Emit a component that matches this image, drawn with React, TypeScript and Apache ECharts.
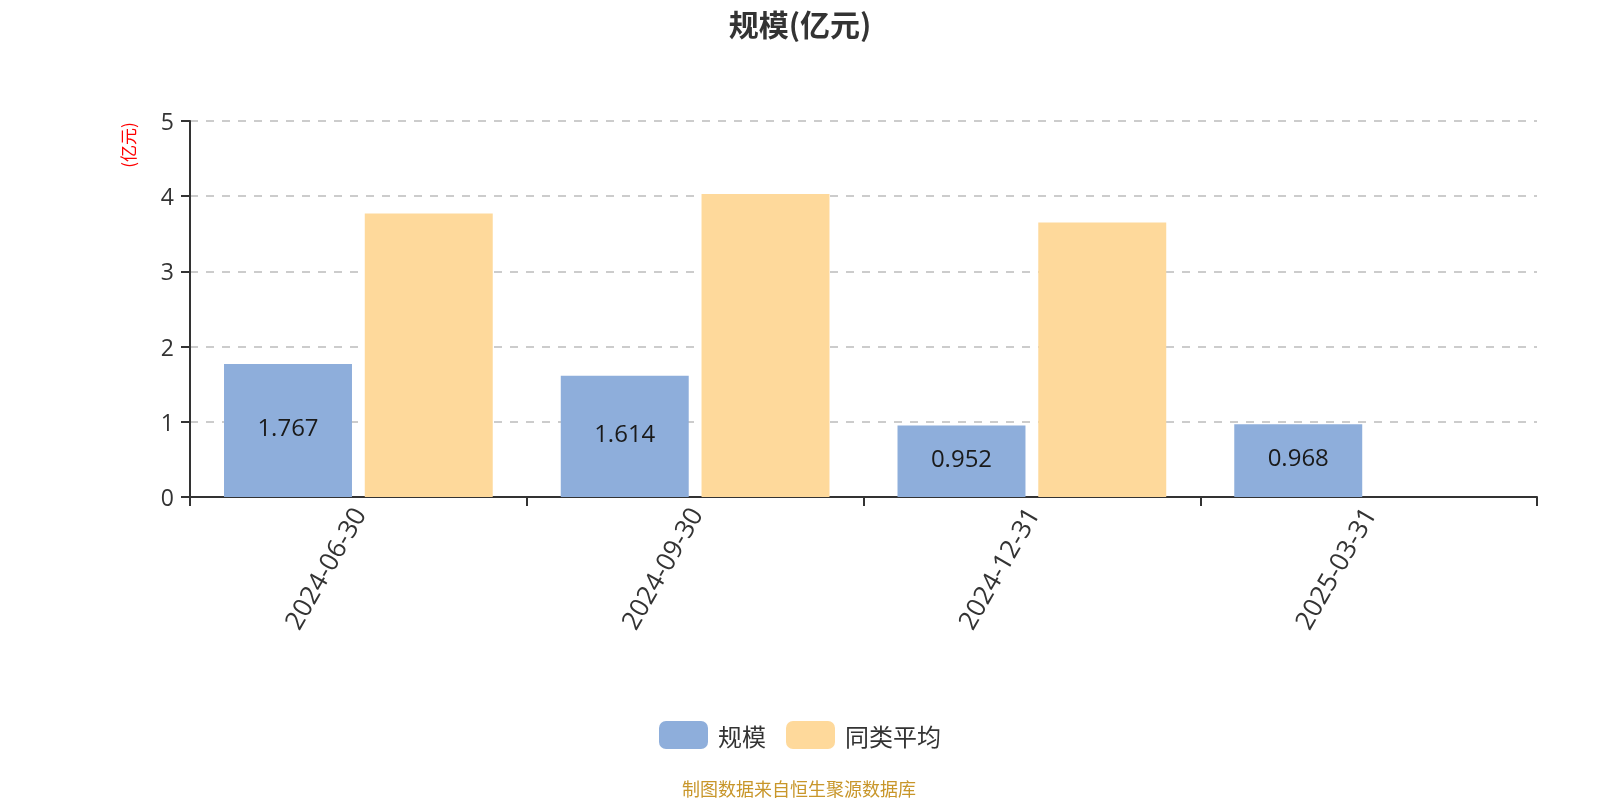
import React, { useEffect, useRef } from "react";
import * as echarts from "echarts";

const categories = ["2024-06-30", "2024-09-30", "2024-12-31", "2025-03-31"];
const scaleValues = [1.767, 1.614, 0.952, 0.968];
const avgValues: (number | null)[] = [3.77, 4.03, 3.65, null];
const seriesNames = ["规模", "同类平均"];
const yTicks = { min: 0, max: 5, interval: 1 };

const FONT = "'Open Sans', 'Noto Sans CJK SC', sans-serif";
const CJK = "'Noto Sans CJK SC', sans-serif";

export default function App() {
  const ref = useRef<HTMLDivElement>(null);
  useEffect(() => {
    if (!ref.current) return;
    const chart = echarts.init(ref.current, undefined, { renderer: "svg" });
    chart.setOption({
      animation: false,
      textStyle: { fontFamily: FONT },
      title: {
        text: "规模(亿元)",
        left: "center",
        top: 7,
        padding: 0,
        textStyle: { fontSize: 30, lineHeight: 32, fontWeight: "bold", color: "#333", fontFamily: CJK },
      },
      legend: {
        data: seriesNames,
        top: 716,
        left: "center",
        icon: "roundRect",
        itemWidth: 49,
        itemHeight: 28,
        itemGap: 20,
        textStyle: { fontSize: 24, color: "#333", fontFamily: CJK, padding: [0, 0, 0, 5] },
      },
      grid: { left: 190, right: 63, top: 121, bottom: 303, containLabel: false },
      xAxis: {
        type: "category",
        data: categories,
        axisLine: { lineStyle: { color: "#333", width: 2 } },
        axisTick: { show: true, alignWithLabel: false, length: 9, lineStyle: { color: "#333", width: 2 } },
        axisLabel: { rotate: 60, fontSize: 26, color: "#333", margin: 12, fontFamily: FONT },
      },
      yAxis: {
        type: "value",
        min: yTicks.min,
        max: yTicks.max,
        interval: yTicks.interval,
        axisLine: { show: true, lineStyle: { color: "#333", width: 2 } },
        axisTick: { show: true, length: 9, lineStyle: { color: "#333", width: 2 } },
        axisLabel: { fontSize: 23, color: "#333", margin: 16, fontFamily: FONT },
        splitLine: { lineStyle: { type: [8, 8], color: "#ccc", width: 2 } },
      },
      graphic: [
        {
          type: "text",
          x: 127,
          y: 145,
          rotation: Math.PI / 2,
          style: {
            text: "(亿元)",
            fill: "#ff0000",
            fontSize: 17,
            fontFamily: CJK,
            align: "center",
            verticalAlign: "middle",
          },
        },
        {
          type: "text",
          x: 799,
          y: 788,
          style: {
            text: "制图数据来自恒生聚源数据库",
            fill: "#c8962a",
            fontSize: 18,
            fontFamily: CJK,
            align: "center",
            verticalAlign: "middle",
          },
        },
      ],
      series: [
        {
          name: seriesNames[0],
          type: "bar",
          data: scaleValues,
          barWidth: "38%",
          barGap: "10%",
          itemStyle: { color: "#8EAEDB" },
          label: {
            show: true,
            position: "inside",
            offset: [0, -4],
            fontSize: 24,
            color: "#1a1a1a",
            fontFamily: FONT,
          },
        },
        {
          name: seriesNames[1],
          type: "bar",
          data: avgValues,
          barWidth: "38%",
          barGap: "10%",
          itemStyle: { color: "#FED99B" },
        },
      ],
    });
    return () => chart.dispose();
  }, []);
  return (
    <div
      ref={ref}
      style={{ position: "fixed", left: 0, top: 0, width: 1600, height: 800 }}
    />
  );
}
